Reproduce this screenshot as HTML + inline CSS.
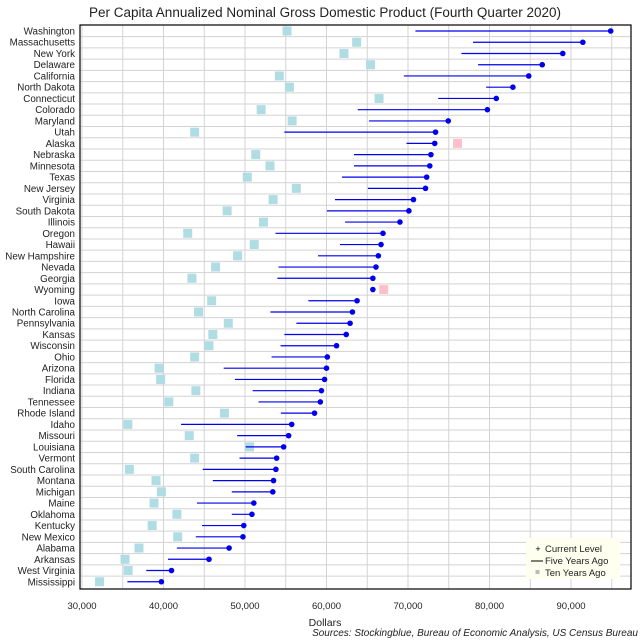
<!DOCTYPE html>
<html><head><meta charset="utf-8"><style>
body{margin:0;background:#fff;}
svg{display:block;font-family:"Liberation Sans",sans-serif;}
</style></head><body>
<svg id="chart" width="640" height="640" viewBox="0 0 640 640" xmlns="http://www.w3.org/2000/svg">
<rect x="0" y="0" width="640" height="640" fill="#fff"/>
<text x="325" y="17" text-anchor="middle" font-size="13.5" fill="#222">Per Capita Annualized Nominal Gross Domestic Product (Fourth Quarter 2020)</text>
<g id="grid"></g>
<g id="marks"></g>
<rect x="80" y="25" width="551" height="564" fill="none" stroke="#000" stroke-width="1.2"/>
<g id="labels"></g>
<g id="xticks"></g>
<text x="325" y="626" text-anchor="middle" font-size="10.5" fill="#222">Dollars</text>
<text x="638" y="636" text-anchor="end" font-size="10" font-style="italic" fill="#222">Sources: Stockingblue, Bureau of Economic Analysis, US Census Bureau</text>
<g>
<rect x="526" y="538" width="94" height="41" fill="#fffff0"/>
<text x="538" y="552" text-anchor="middle" font-size="9" fill="#000">+</text>
<text x="545" y="552" font-size="9.5" fill="#222">Current Level</text>
<line x1="531" y1="561" x2="543" y2="561" stroke="#000" stroke-width="1"/>
<text x="545" y="564" font-size="9.5" fill="#222">Five Years Ago</text>
<rect x="535.5" y="570" width="4" height="4" fill="#bbb"/>
<text x="545" y="576" font-size="9.5" fill="#222">Ten Years Ago</text>
</g>
</svg>
<script>
const states = ["Washington","Massachusetts","New York","Delaware","California","North Dakota","Connecticut","Colorado","Maryland","Utah","Alaska","Nebraska","Minnesota","Texas","New Jersey","Virginia","South Dakota","Illinois","Oregon","Hawaii","New Hampshire","Nevada","Georgia","Wyoming","Iowa","North Carolina","Pennsylvania","Kansas","Wisconsin","Ohio","Arizona","Florida","Indiana","Tennessee","Rhode Island","Idaho","Missouri","Louisiana","Vermont","South Carolina","Montana","Michigan","Maine","Oklahoma","Kentucky","New Mexico","Alabama","Arkansas","West Virginia","Mississippi"];
const currentLevel = [94870,91450,88990,86470,84810,82870,80830,79740,74940,73380,73280,72810,72670,72290,72150,70670,70110,69010,66930,66690,66360,66070,65690,65690,63750,63180,62890,62420,61230,60100,60000,59760,59380,59240,58530,55730,55350,54740,53880,53790,53500,53410,51080,50850,49850,49750,48050,45580,40980,39740];
const fiveYearsAgo = [70910,77980,76560,78600,69490,79590,73710,63840,65220,54830,69820,63370,63370,61900,65080,61040,60050,62280,53740,61660,58960,54120,53980,65690,57770,53120,56300,54830,54360,53260,47380,48760,50940,51650,54400,42160,49040,50090,49330,44820,46050,48380,44110,48380,44730,43970,41640,40550,37890,35570];
const tenYearsAgo = [55160,63700,62140,65410,54210,55450,66450,51980,55780,43820,76080,51320,53070,50280,56300,53450,47810,52270,42970,51130,49090,46390,43490,67020,45910,44300,47950,46050,45580,43820,39460,39650,43970,40650,47480,35620,43160,50560,43820,35810,39080,39740,38840,41640,38610,41740,36990,35280,35660,32150];
const xTicks = [30000,40000,50000,60000,70000,80000,90000];
const xTickLabels = ["30,000","40,000","50,000","60,000","70,000","80,000","90,000"];

const NS = "http://www.w3.org/2000/svg";
const X0 = 82, XSCALE = 81.5/10000, Y0 = 31, DY = 11.24;
function xPos(v){ return X0 + (v-30000)*XSCALE; }
function yPos(i){ return Y0 + i*DY; }
function mk(tag, attrs, parent){ const e=document.createElementNS(NS,tag); for(const k in attrs) e.setAttribute(k,attrs[k]); parent.appendChild(e); return e; }

const grid=document.getElementById('grid'), marks=document.getElementById('marks'), labels=document.getElementById('labels'), xt=document.getElementById('xticks');
for(let v=30000; v<=95000; v+=5000){
  const l=mk('line',{x1:xPos(v),x2:xPos(v),y1:25,y2:589,stroke:'#d3d3d3','stroke-width':1},grid);
  
  
}
for(let i=0;i<states.length-1;i++){
  const yy=yPos(i)+DY/2;
  const l=mk('line',{x1:80,x2:631,y1:yy,y2:yy,stroke:'#d3d3d3','stroke-width':1},grid);
  
  
}
xTicks.forEach((v,i)=>{
  const t=mk('text',{x:xPos(v),y:609,'text-anchor':'middle','font-size':9.5,fill:'#222'},xt);
  t.textContent=xTickLabels[i];
  
  
});
states.forEach((s,i)=>{
  const y=yPos(i);
  const lb=mk('text',{x:75,y:y+3.5,'text-anchor':'end','font-size':9.8,fill:'#222'},labels);
  lb.textContent=s;
  
  
  const ten=tenYearsAgo[i];
  const sq=mk('rect',{x:xPos(ten)-4.5,y:y-4.5,width:9,height:9,fill: ten>currentLevel[i] ? '#ffc0cb' : '#b0dde4'},marks);
  
  
  const ln=mk('line',{x1:xPos(fiveYearsAgo[i]),x2:xPos(currentLevel[i]),y1:y,y2:y,stroke:'#0000ee','stroke-width':1.2},marks);
  
  
  const c=mk('circle',{cx:xPos(currentLevel[i]),cy:y,r:2.8,fill:'#0000ee'},marks);
  
  
});
</script>
</body></html>
